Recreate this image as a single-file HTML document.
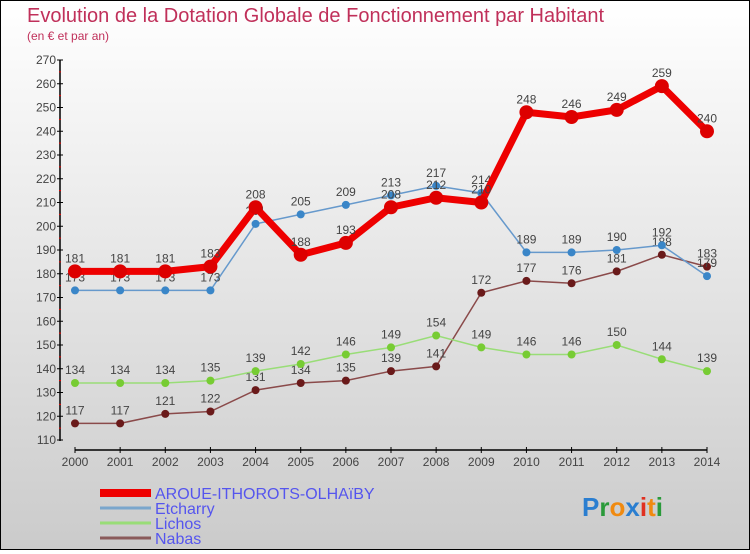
<!DOCTYPE html>
<html><head><meta charset="utf-8"><style>
html,body{margin:0;padding:0;}
body{width:750px;height:550px;overflow:hidden;font-family:"Liberation Sans","DejaVu Sans",sans-serif;}
#wrap{position:relative;width:748px;height:548px;border:1px solid #000;background:linear-gradient(#fff,#cbcbcb);}
svg text{font-family:"Liberation Sans","DejaVu Sans",sans-serif;}
</style></head><body>
<div id="wrap">
<svg id="chart" width="748" height="548" viewBox="1 1 748 548"></svg>
</div>
<script>
const years=[2000,2001,2002,2003,2004,2005,2006,2007,2008,2009,2010,2011,2012,2013,2014];
const aroue=[181,181,181,183,208,188,193,208,212,210,248,246,249,259,240];
const etcharry=[173,173,173,173,201,205,209,213,217,214,189,189,190,192,179];
const lichos=[134,134,134,135,139,142,146,149,154,149,146,146,150,144,139];
const nabas=[117,117,121,122,131,134,135,139,141,172,177,176,181,188,183];
const yTicks=[110,120,130,140,150,160,170,180,190,200,210,220,230,240,250,260,270];
const NS="http://www.w3.org/2000/svg";
const svg=document.getElementById('chart');
const X=i=>75+i*(632/14);
const Y=v=>440-(v-110)*2.375;
function mk(t,a,p){const e=document.createElementNS(NS,t);for(const k in a)e.setAttribute(k,a[k]);(p||svg).appendChild(e);return e;}
let t=mk('text',{x:27,y:22,fill:'#c0305a','font-size':20});t.textContent='Evolution de la Dotation Globale de Fonctionnement par Habitant';


t=mk('text',{x:27,y:40,fill:'#c0305a','font-size':12});t.textContent='(en € et par an)';


let ax=mk('line',{x1:60,y1:60,x2:60,y2:441,stroke:'#000','stroke-width':1.5});


yTicks.forEach(v=>{
  mk('line',{x1:57,y1:Y(v),x2:63,y2:Y(v),stroke:'#000'});
  if(v<270) mk('line',{x1:59,y1:Y(v+5),x2:61,y2:Y(v+5),stroke:'#e00'});
  const l=mk('text',{x:56,y:Y(v)+4,'text-anchor':'end','font-size':12,fill:'#444'});l.textContent=v;
  
  
});
ax=mk('line',{x1:75,y1:450,x2:707,y2:450,stroke:'#000','stroke-width':1.5});


years.forEach((y,i)=>{
  mk('line',{x1:X(i),y1:447,x2:X(i),y2:453,stroke:'#000'});
  const l=mk('text',{x:X(i),y:466,'text-anchor':'middle','font-size':12,fill:'#444'});l.textContent=y;
  
  
});
function series(data,color,dot,w,r,name){
  const g=mk('g',{});
  
  
  mk('polyline',{points:data.map((v,i)=>X(i)+','+Y(v)).join(' '),fill:'none',stroke:color,'stroke-width':w},g);
  data.forEach((v,i)=>{
    const c=mk('circle',{cx:X(i),cy:Y(v),r:r,fill:dot},g);
    
    
    const l=mk('text',{x:X(i),y:Y(v)-9,'text-anchor':'middle','font-size':12,fill:'#444'},g);l.textContent=v;
    
    
  });
}
series(nabas,'#8a4a4a','#6a1a1a',1.5,4,'nabas');
series(lichos,'#99dd77','#77cc33',1.5,4,'lichos');
series(etcharry,'#6699cc','#3a86c8',1.5,4,'etcharry');
series(aroue,'#ee0000','#dd0000',7,7,'aroue');
const leg=[['AROUE-ITHOROTS-OLHAïBY','#ee0000',8],['Etcharry','#7aa6cc',3],['Lichos','#99dd77',3],['Nabas','#8a5a5a',3]];
leg.forEach((e,i)=>{
  const y=[493,508,523,538][i];
  const g=mk('g',{});
  
  
  mk('line',{x1:100,y1:y,x2:151,y2:y,stroke:e[1],'stroke-width':e[2]},g);
  const l=mk('text',{x:155,y:y+6,'font-size':16,fill:'#5555ee'},g);l.textContent=e[0];
});
const logo=mk('text',{x:582,y:516,'font-size':26,'font-weight':'bold'});


[['P','#2a7ed0'],['r','#2a9a3a'],['o','#f08a10'],['x','#2a7ed0'],['i','#e03020'],['t','#f08a10'],['i','#2a9a3a']].forEach(c=>{const s=mk('tspan',{fill:c[1]},logo);s.textContent=c[0];});
</script>
</body></html>
